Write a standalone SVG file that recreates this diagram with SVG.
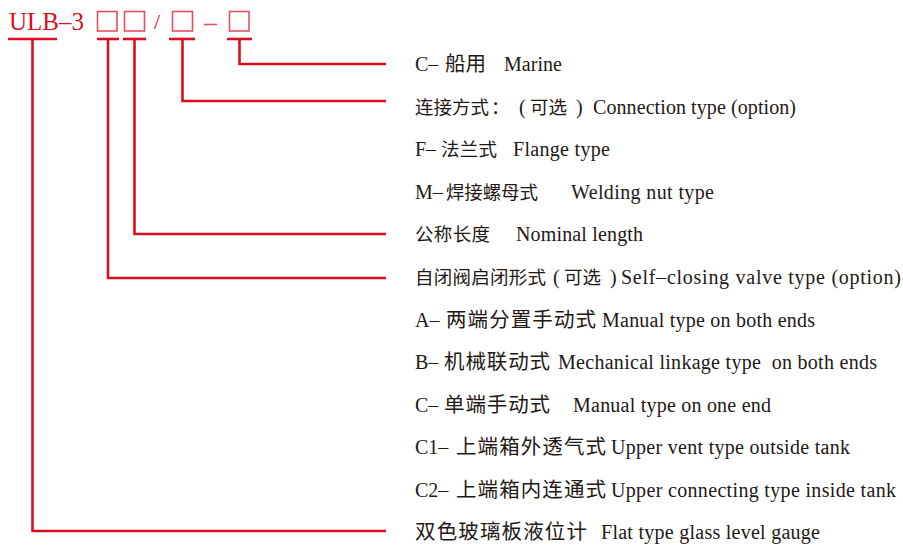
<svg xmlns="http://www.w3.org/2000/svg" width="903" height="546" viewBox="0 0 903 546">
<style>
.t{font-family:"Liberation Serif","Noto Sans CJK SC",serif;font-size:20px;fill:#231815;white-space:pre}
.k{font-family:"Noto Sans CJK SC",sans-serif;font-size:18.5px}
.k2{font-family:"Noto Sans CJK SC",sans-serif;font-size:20.5px}
.h{font-family:"Liberation Serif","Noto Sans CJK SC",serif;font-size:25px;fill:#d7101f}
.box{fill:none;stroke:#e2525e;stroke-width:1.6}
.ul{stroke:#d7101f;stroke-width:2.6;fill:none}
.c{stroke:#d7101f;stroke-width:2.6;fill:none;stroke-linejoin:miter}
</style>
<rect width="903" height="546" fill="#ffffff"/>
<g id="code">
<text class="h" x="9" y="30">ULB–3</text>
<rect class="box" x="97.5" y="11.5" width="19.5" height="19.5"/>
<rect class="box" x="124.5" y="11.5" width="20" height="19.5"/>
<text class="h" x="154" y="29" style="font-size:22px">/</text>
<rect class="box" x="172.5" y="11.5" width="20" height="19.5"/>
<line x1="204" y1="24.5" x2="217" y2="24.5" stroke="#e2525e" stroke-width="1.6"/>
<rect class="box" x="229.5" y="11.5" width="19.5" height="19.5"/>
<line class="ul" x1="8" y1="39" x2="57" y2="39"/>
<line class="ul" x1="97" y1="39" x2="119" y2="39"/>
<line class="ul" x1="123" y1="39" x2="146" y2="39"/>
<line class="ul" x1="169" y1="39" x2="195" y2="39"/>
<line class="ul" x1="227" y1="39" x2="252" y2="39"/>
</g>
<g id="connectors">
<polyline class="c" points="32.5,39 32.5,531 386,531"/>
<polyline class="c" points="108,39 108,278 386,278"/>
<polyline class="c" points="134.5,39 134.5,234 386,234"/>
<polyline class="c" points="182.5,39 182.5,101 386,101"/>
<polyline class="c" points="239.5,39 239.5,64 386,64"/>
</g>
<g id="labels">
<g id="r1"><text class="t" y="71"><tspan x="415">C–</tspan><tspan class="k2" x="445">船用</tspan><tspan x="504" textLength="58">Marine</tspan></text></g>
<g id="r2"><text class="t" y="113.5"><tspan class="k" x="415" textLength="74">连接方式</tspan><tspan class="k" x="491">：</tspan><tspan x="519">(</tspan><tspan class="k" x="530">可选</tspan><tspan x="576">)</tspan><tspan x="593" textLength="203">Connection type (option)</tspan></text></g>
<g id="r3"><text class="t" y="156"><tspan x="415">F–</tspan><tspan class="k" x="441" textLength="56">法兰式</tspan><tspan x="513" textLength="97">Flange type</tspan></text></g>
<g id="r4"><text class="t" y="198.5"><tspan x="415">M–</tspan><tspan class="k" x="446" textLength="92">焊接螺母式</tspan><tspan x="571" textLength="143">Welding nut type</tspan></text></g>
<g id="r5"><text class="t" y="241"><tspan class="k" x="415" textLength="75">公称长度</tspan><tspan x="516" textLength="127">Nominal length</tspan></text></g>
<g id="r6"><text class="t" y="284"><tspan class="k" x="415" textLength="131">自闭阀启闭形式</tspan><tspan x="553">(</tspan><tspan class="k" x="564">可选</tspan><tspan x="610">)</tspan><tspan x="621" textLength="280">Self–closing valve type (option)</tspan></text></g>
<g id="r7"><text class="t" y="326.5"><tspan x="415">A–</tspan><tspan class="k2" x="446" textLength="150">两端分置手动式</tspan><tspan x="602" textLength="213">Manual type on both ends</tspan></text></g>
<g id="r8"><text class="t" y="369"><tspan x="415">B–</tspan><tspan class="k2" x="444" textLength="106">机械联动式</tspan><tspan x="558" textLength="319">Mechanical linkage type  on both ends</tspan></text></g>
<g id="r9"><text class="t" y="411.5"><tspan x="415">C–</tspan><tspan class="k2" x="444" textLength="106">单端手动式</tspan><tspan x="573" textLength="198">Manual type on one end</tspan></text></g>
<g id="r10"><text class="t" y="454"><tspan x="415">C1–</tspan><tspan class="k2" x="456" textLength="150">上端箱外透气式</tspan><tspan x="611" textLength="239">Upper vent type outside tank</tspan></text></g>
<g id="r11"><text class="t" y="496.5"><tspan x="415">C2–</tspan><tspan class="k2" x="456" textLength="150">上端箱内连通式</tspan><tspan x="611" textLength="285">Upper connecting type inside tank</tspan></text></g>
<g id="r12"><text class="t" y="539"><tspan class="k2" x="415" textLength="172">双色玻璃板液位计</tspan><tspan x="601" textLength="219">Flat type glass level gauge</tspan></text></g>
</g>
</svg>
